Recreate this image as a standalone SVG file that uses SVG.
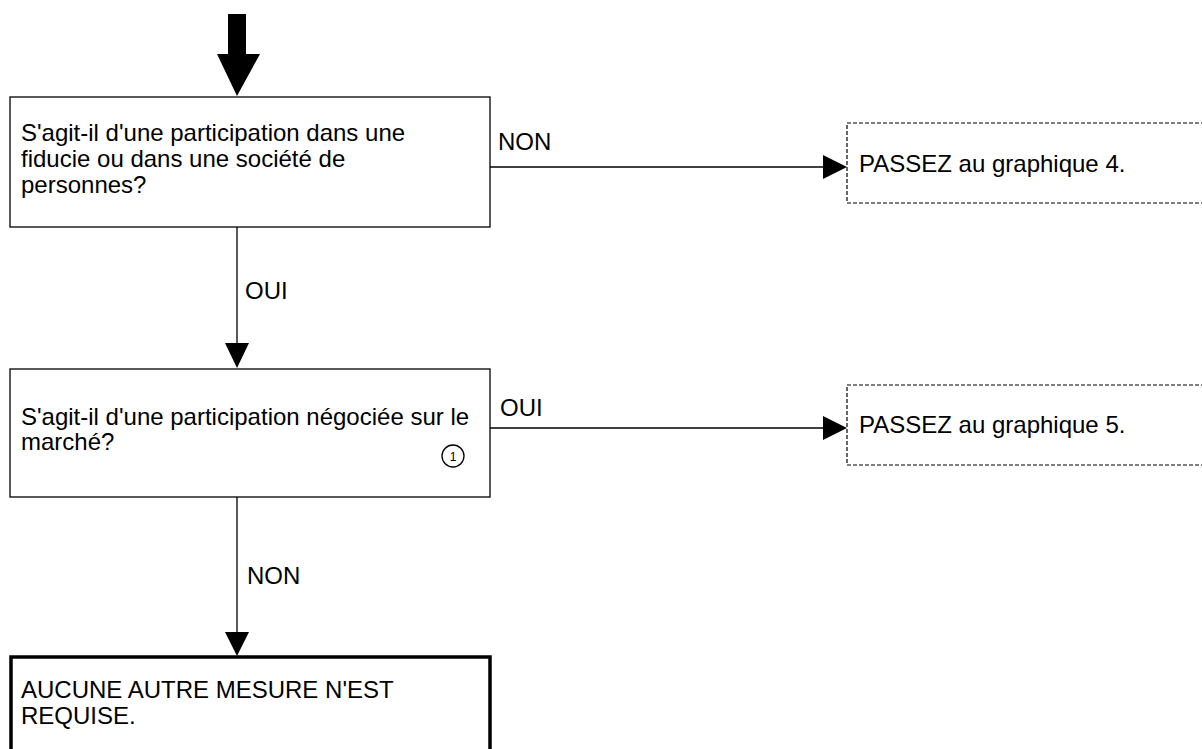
<svg xmlns="http://www.w3.org/2000/svg" width="1202" height="749" viewBox="0 0 1202 749">
<style>
.t{font-family:"Liberation Sans",Arial,sans-serif;font-size:24px;fill:#000}
.box{fill:#fff;stroke:#000;stroke-width:1.3}
.bold{fill:#fff;stroke:#000;stroke-width:3.5}
.dash{fill:#fff;stroke:#000;stroke-width:1.2;stroke-dasharray:4 2}
.ln{stroke:#000;stroke-width:1.3;fill:none}
.ah{fill:#000}
</style>
<rect width="1202" height="749" fill="#fff"/>
<g id="connectors">
<polygon class="ah" points="228,14 246,14 246,54 260,54 237,96 217,54 228,54"/>
<line class="ln" x1="237" y1="227" x2="237" y2="345"/>
<polygon class="ah" points="225,343 249,343 237,368"/>
<line class="ln" x1="490" y1="167" x2="825" y2="167"/>
<polygon class="ah" points="823,155 823,179 847,167"/>
<line class="ln" x1="490" y1="428" x2="825" y2="428"/>
<polygon class="ah" points="823,416 823,440 847,428"/>
<line class="ln" x1="237" y1="497" x2="237" y2="634"/>
<polygon class="ah" points="225,632 249,632 237,656"/>
<text class="t" x="498" y="150">NON</text>
<text class="t" x="245" y="299">OUI</text>
<text class="t" x="500" y="416">OUI</text>
<text class="t" x="247" y="584">NON</text>
</g>
<g id="q1">
<rect class="box" x="10" y="97" width="480" height="130"/>
<text class="t" x="21" y="141">S'agit-il d'une participation dans une</text>
<text class="t" x="21" y="167">fiducie ou dans une société de</text>
<text class="t" x="21" y="193">personnes?</text>
</g>
<g id="g4">
<rect class="dash" x="847" y="123" width="400" height="80"/>
<text class="t" x="859" y="172">PASSEZ au graphique 4.</text>
</g>
<g id="q2">
<rect class="box" x="10" y="369" width="480" height="128"/>
<text class="t" x="21" y="425">S'agit-il d'une participation négociée sur le</text>
<text class="t" x="21" y="450">marché?</text>
<circle cx="453" cy="456" r="11" fill="none" stroke="#000" stroke-width="1.3"/>
<text x="453" y="460.5" text-anchor="middle" font-family="Liberation Sans, Arial, sans-serif" font-size="12">1</text>
</g>
<g id="g5">
<rect class="dash" x="847" y="385" width="400" height="80"/>
<text class="t" x="859" y="433">PASSEZ au graphique 5.</text>
</g>
<g id="end">
<rect class="bold" x="11" y="657" width="479" height="130"/>
<text class="t" x="21" y="698">AUCUNE AUTRE MESURE N'EST</text>
<text class="t" x="21" y="724">REQUISE.</text>
</g>
</svg>
